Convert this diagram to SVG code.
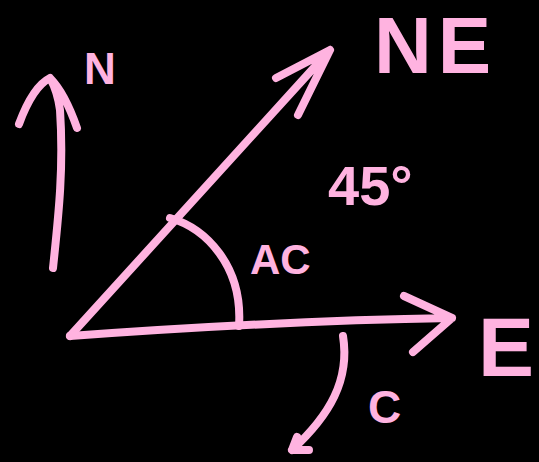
<svg xmlns="http://www.w3.org/2000/svg" width="539" height="462" viewBox="0 0 539 462">
<style>
.s{fill:none;stroke:#ffb3e0;stroke-width:8;stroke-linecap:round;stroke-linejoin:round}
.t{fill:#ffb3e0;font-family:"Liberation Sans","DejaVu Sans",sans-serif;font-weight:bold}
</style>
<rect width="539" height="462" fill="#000"/>
<g id="connectors">
<path id="north-arrow" class="s" d="M53,268 C58,220 64,170 60,110 C58,95 54,85 50,78 M19,124 C26,105 36,85 50,78 C60,88 70,108 77,128"/>
<path id="ne-arrow" class="s" d="M70,336 L330,50 M276,78 L330,50 L298,115"/>
<path id="e-arrow" class="s" d="M70,336 C180,328 320,320 452,318 M404,296 L452,318 L413,352"/>
<path id="ac-arc" class="s" d="M170,218 C205,228 243,265 239,326"/>
<path id="c-arrow" class="s" d="M343,336 C350,380 330,415 292,450 M297,437 L292,450 L309,450"/>
</g>
<g id="label-N"><text class="t" x="84" y="84" font-size="44">N</text></g>
<g id="label-NE"><text class="t" x="374" y="73" font-size="80" letter-spacing="6">NE</text></g>
<g id="label-45"><text class="t" x="328" y="205" font-size="56">45°</text></g>
<g id="label-AC"><text class="t" x="250" y="274" font-size="42">AC</text></g>
<g id="label-E"><text class="t" x="478" y="376" font-size="84">E</text></g>
<g id="label-C"><text class="t" x="368" y="423" font-size="46">C</text></g>
</svg>
